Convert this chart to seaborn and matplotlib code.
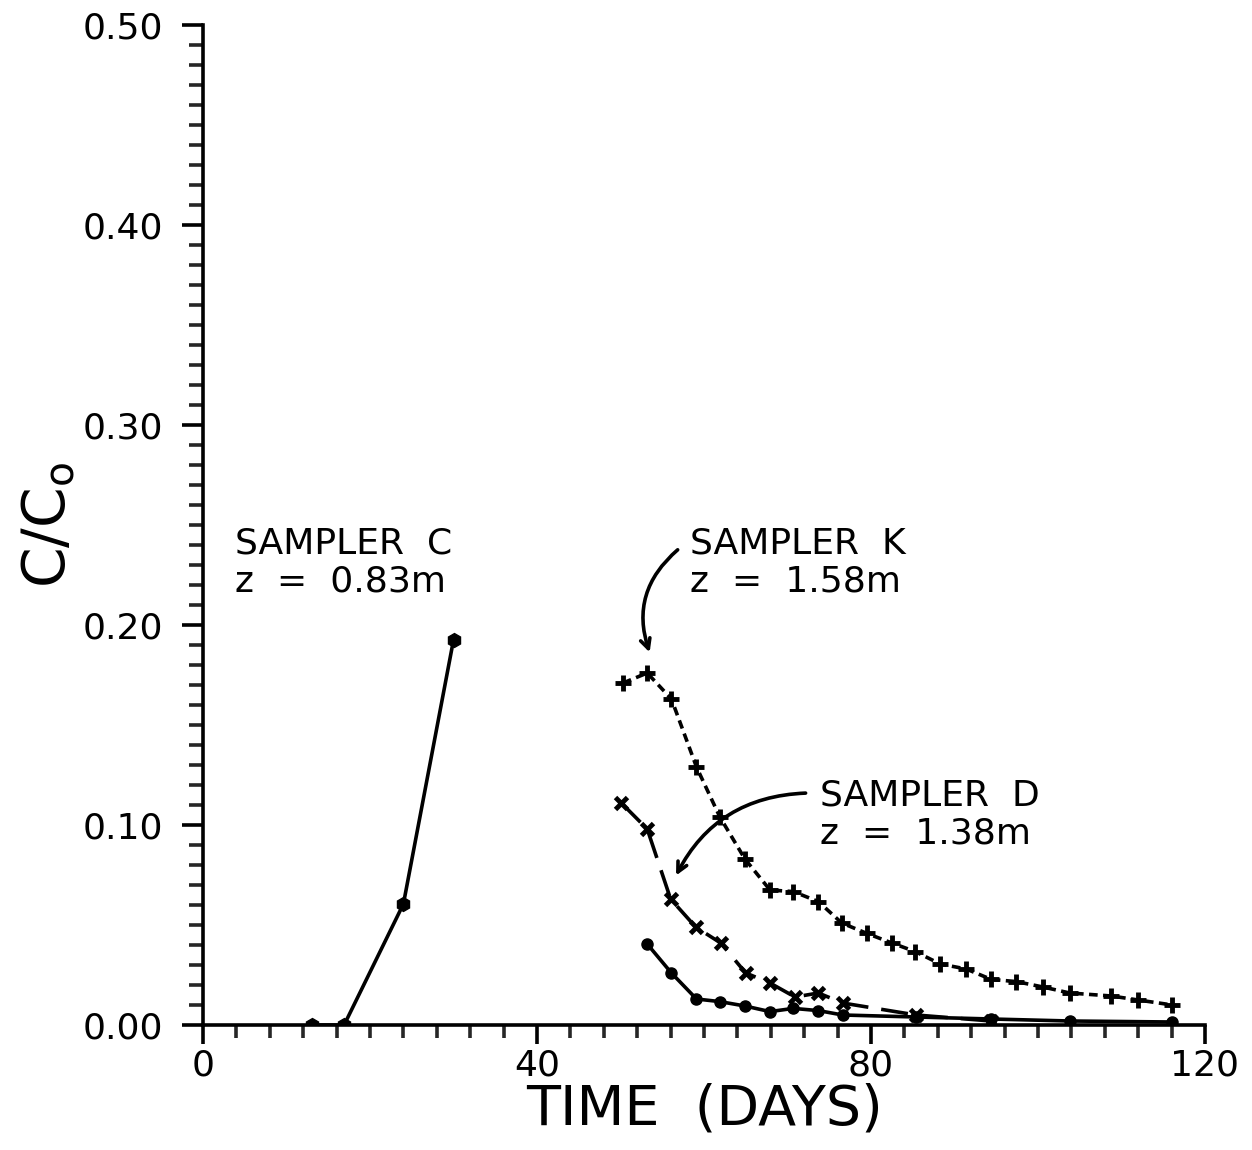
import numpy as np
import pandas as pd
import matplotlib
matplotlib.use("Agg")
import matplotlib.pyplot as plt
import seaborn as sns
from matplotlib.ticker import MultipleLocator, FormatStrFormatter

# ---- data ----
c_days = [13.0, 16.9, 24.0, 30.0]
c_vals = [0.0, 0.0, 0.0605, 0.1925]

k_days = [50.3, 53.2, 56.1, 59.1, 61.9, 64.9, 67.9, 70.7, 73.7, 76.5, 79.5, 82.5,
          85.3, 88.3, 91.4, 94.4, 97.4, 100.6, 103.8, 108.8, 112.0, 116.1]
k_vals = [0.171, 0.176, 0.163, 0.129, 0.104, 0.083, 0.0675, 0.0667, 0.0617, 0.051,
          0.0458, 0.041, 0.0367, 0.0305, 0.028, 0.0228, 0.0217, 0.019, 0.016,
          0.0145, 0.0125, 0.010]

d_days = [50.1, 53.2, 56.0, 59.0, 62.0, 65.0, 67.9, 70.9, 73.7, 76.6, 85.4, 94.4]
d_vals = [0.111, 0.098, 0.063, 0.049, 0.041, 0.026, 0.021, 0.014, 0.016, 0.011,
          0.005, 0.002]

s_days = [53.2, 56.1, 59.1, 61.9, 64.9, 67.9, 70.7, 73.7, 76.6, 85.4, 94.4, 103.8, 116.1]
s_vals = [0.0405, 0.026, 0.013, 0.0117, 0.0095, 0.0067, 0.0083, 0.0072, 0.005,
          0.004, 0.003, 0.002, 0.0015]

label_c = "SAMPLER  C\nz  =  0.83m"
label_k = "SAMPLER  K\nz  =  1.58m"
label_d = "SAMPLER  D\nz  =  1.38m"

sns.set_style("ticks")
plt.rcParams['font.family'] = ['DejaVu Sans']
plt.rcParams['text.color'] = 'black'
plt.rcParams['axes.labelcolor'] = 'black'

fig = plt.figure(figsize=(12.52, 11.5), dpi=100)
ax = fig.add_axes([203/1252, 1 - 1025/1150, (1205-203)/1252, (1025-25)/1150])

lw = 2.6
sns.lineplot(x=c_days, y=c_vals, ax=ax, color="black", lw=lw, marker="h",
             markersize=10, markeredgecolor="black", markeredgewidth=1, linestyle="-")
sns.lineplot(x=k_days, y=k_vals, ax=ax, color="black", lw=lw, marker="+",
             markersize=12, markeredgecolor="black", markeredgewidth=3.5,
             linestyle=(0, (2.4, 1.5)))
sns.lineplot(x=d_days, y=d_vals, ax=ax, color="black", lw=lw, marker="x",
             markersize=9, markeredgecolor="black", markeredgewidth=3.5,
             linestyle=(0, (7.5, 3.6)))
sns.lineplot(x=s_days, y=s_vals, ax=ax, color="black", lw=lw, marker="o",
             markersize=8, markeredgecolor="black", markeredgewidth=1, linestyle="-")

ax.set_xlim(0, 120)
ax.set_ylim(0, 0.5)
ax.spines['top'].set_visible(False)
ax.spines['right'].set_visible(False)
for s in ['left', 'bottom']:
    ax.spines[s].set_linewidth(2.6)
    ax.spines[s].set_color('black')

ax.xaxis.set_major_locator(MultipleLocator(40))
ax.xaxis.set_minor_locator(MultipleLocator(4))
ax.yaxis.set_major_locator(MultipleLocator(0.1))
ax.yaxis.set_minor_locator(MultipleLocator(0.01))
ax.yaxis.set_major_formatter(FormatStrFormatter('%.2f'))

ax.tick_params(axis='x', which='major', direction='out', length=14, width=2.6,
               pad=3, labelsize=26, colors='black')
ax.tick_params(axis='x', which='minor', direction='out', length=9, width=2.6)
ax.tick_params(axis='y', which='major', direction='out', length=15, width=2.6,
               pad=14, labelsize=26, colors='black')
ax.tick_params(axis='y', which='minor', direction='out', length=10, width=2.6)

ax.set_xlabel("TIME  (DAYS)", fontsize=40, labelpad=0, color='black')
ax.set_ylabel(r"C/C$_{\mathregular{o}}$", fontsize=42, labelpad=4, color='black')

txt_kw = dict(fontsize=26, va='top', ha='left', linespacing=1.15, color='black')
ax.text(3.8, 0.2495, label_c, **txt_kw)
ax.text(58.3, 0.2495, label_k, **txt_kw)
ax.text(73.9, 0.1235, label_d, **txt_kw)

arrow_kw = dict(arrowstyle="->,head_length=0.7,head_width=0.35", lw=2.6, color='black')
ax.annotate("", xy=(53.6, 0.185), xytext=(57.1, 0.2385),
            arrowprops=dict(connectionstyle="arc3,rad=0.35", **arrow_kw))
ax.annotate("", xy=(56.5, 0.0735), xytext=(72.5, 0.116),
            arrowprops=dict(connectionstyle="arc3,rad=0.3", **arrow_kw))

fig.savefig("out.png", dpi=100, facecolor='white')
